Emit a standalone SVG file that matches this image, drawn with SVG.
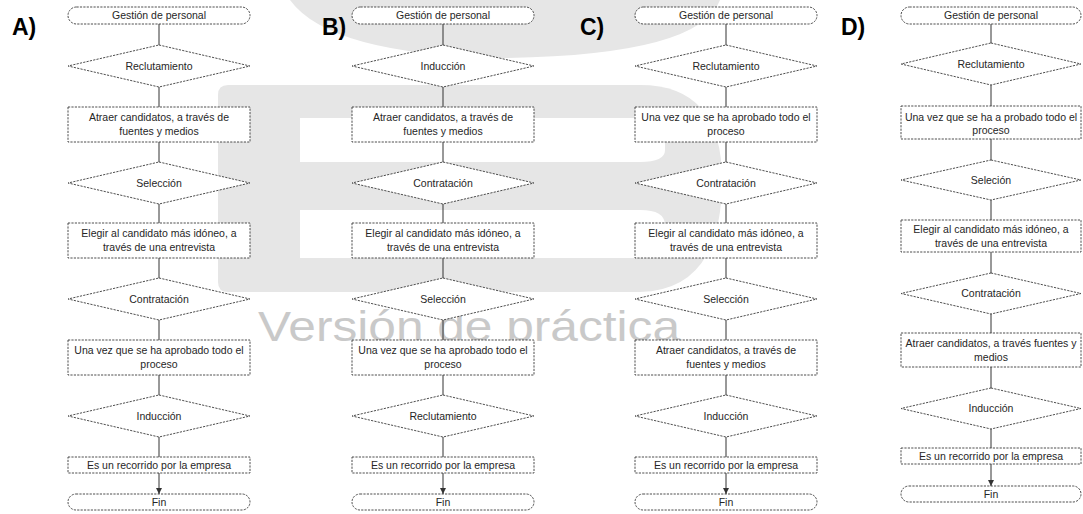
<svg xmlns="http://www.w3.org/2000/svg" width="1083" height="514" viewBox="0 0 1083 514">
<style>
.n{fill:#fff;stroke:#3a3a3a;stroke-width:0.9;stroke-dasharray:2.2 1.2}
.t{font-family:'Liberation Sans',Arial,sans-serif;font-size:10.5px;fill:#262626;text-anchor:middle}
.c{stroke:#333;stroke-width:1;fill:none;marker-end:url(#ah)}
.lbl{font-family:'Liberation Sans',Arial,sans-serif;font-size:23px;font-weight:bold;fill:#000}
.wm{fill:#e6e6e6}
</style>
<defs>
<marker id="ah" markerUnits="userSpaceOnUse" markerWidth="6" markerHeight="6" refX="6" refY="3" orient="auto"><path d="M0,0 L6,3 L0,6 z" fill="#333"/></marker>
</defs>
<rect width="1083" height="514" fill="#fff"/>
<g id="watermark">
<path class="wm" d="M290,0 L720,0 Q700,55 505,58 Q330,55 290,0 Z"/>
<path class="wm" d="M218,95 Q218,85 228,85 L640,85 Q722,85 722,180 Q722,290 640,292 L228,292 Q218,292 218,282 Z"/>
<path fill="#fff" d="M300,118 L640,118 Q665,118 665,140 L665,150 Q665,162 640,162 L300,162 Z"/>
<path fill="#fff" d="M300,210 L640,210 Q665,210 665,225 L665,240 Q665,258 640,258 L300,258 Z"/>
<text x="258" y="341" font-family="'Liberation Sans',Arial,sans-serif" font-size="42" fill="#c9c9c9" textLength="422" lengthAdjust="spacingAndGlyphs">Versión de práctica</text>
</g>
<g id="labels">
<text class="lbl" x="12" y="35">A)</text>
<text class="lbl" x="322" y="35">B)</text>
<text class="lbl" x="580" y="35">C)</text>
<text class="lbl" x="841" y="35">D)</text>
</g>
<g id="colA">
<g id="A_inicio"><rect class="n" x="68" y="7" width="182" height="17" rx="8.5"/><text class="t" x="159" y="19.3">Gestión de personal</text></g>
<g id="A_d1"><polygon class="n" points="159,45 250,66 159,87 68,66"/><text class="t" x="159" y="69.8">Reclutamiento</text></g>
<g id="A_p1"><rect class="n" x="68" y="107" width="182" height="35"/><text class="t" x="159" y="121.3">Atraer candidatos, a través de</text><text class="t" x="159" y="135.3">fuentes y medios</text></g>
<g id="A_d2"><polygon class="n" points="159,162 250,183 159,204 68,183"/><text class="t" x="159" y="186.8">Selección</text></g>
<g id="A_p2"><rect class="n" x="68" y="223" width="182" height="35"/><text class="t" x="159" y="237.3">Elegir al candidato más idóneo, a</text><text class="t" x="159" y="251.3">través de una entrevista</text></g>
<g id="A_d3"><polygon class="n" points="159,278 250,299 159,320 68,299"/><text class="t" x="159" y="302.8">Contratación</text></g>
<g id="A_p3"><rect class="n" x="68" y="340" width="182" height="35"/><text class="t" x="159" y="354.3">Una vez que se ha aprobado todo el</text><text class="t" x="159" y="368.3">proceso</text></g>
<g id="A_d4"><polygon class="n" points="159,395 250,416 159,437 68,416"/><text class="t" x="159" y="419.8">Inducción</text></g>
<g id="A_p4"><rect class="n" x="68" y="457" width="182" height="16"/><text class="t" x="159" y="468.8">Es un recorrido por la empresa</text></g>
<g id="A_fin"><rect class="n" x="68" y="494" width="182" height="16" rx="8"/><text class="t" x="159" y="505.8">Fin</text></g>
</g>
<g id="colB" transform="translate(284,0)">
<g id="B_inicio"><rect class="n" x="68" y="7" width="182" height="17" rx="8.5"/><text class="t" x="159" y="19.3">Gestión de personal</text></g>
<g id="B_d1"><polygon class="n" points="159,45 250,66 159,87 68,66"/><text class="t" x="159" y="69.8">Inducción</text></g>
<g id="B_p1"><rect class="n" x="68" y="107" width="182" height="35"/><text class="t" x="159" y="121.3">Atraer candidatos, a través de</text><text class="t" x="159" y="135.3">fuentes y medios</text></g>
<g id="B_d2"><polygon class="n" points="159,162 250,183 159,204 68,183"/><text class="t" x="159" y="186.8">Contratación</text></g>
<g id="B_p2"><rect class="n" x="68" y="223" width="182" height="35"/><text class="t" x="159" y="237.3">Elegir al candidato más idóneo, a</text><text class="t" x="159" y="251.3">través de una entrevista</text></g>
<g id="B_d3"><polygon class="n" points="159,278 250,299 159,320 68,299"/><text class="t" x="159" y="302.8">Selección</text></g>
<g id="B_p3"><rect class="n" x="68" y="340" width="182" height="35"/><text class="t" x="159" y="354.3">Una vez que se ha aprobado todo el</text><text class="t" x="159" y="368.3">proceso</text></g>
<g id="B_d4"><polygon class="n" points="159,395 250,416 159,437 68,416"/><text class="t" x="159" y="419.8">Reclutamiento</text></g>
<g id="B_p4"><rect class="n" x="68" y="457" width="182" height="16"/><text class="t" x="159" y="468.8">Es un recorrido por la empresa</text></g>
<g id="B_fin"><rect class="n" x="68" y="494" width="182" height="16" rx="8"/><text class="t" x="159" y="505.8">Fin</text></g>
</g>
<g id="colC" transform="translate(567,0)">
<g id="C_inicio"><rect class="n" x="68" y="7" width="182" height="17" rx="8.5"/><text class="t" x="159" y="19.3">Gestión de personal</text></g>
<g id="C_d1"><polygon class="n" points="159,45 250,66 159,87 68,66"/><text class="t" x="159" y="69.8">Reclutamiento</text></g>
<g id="C_p1"><rect class="n" x="68" y="107" width="182" height="35"/><text class="t" x="159" y="121.3">Una vez que se ha aprobado todo el</text><text class="t" x="159" y="135.3">proceso</text></g>
<g id="C_d2"><polygon class="n" points="159,162 250,183 159,204 68,183"/><text class="t" x="159" y="186.8">Contratación</text></g>
<g id="C_p2"><rect class="n" x="68" y="223" width="182" height="35"/><text class="t" x="159" y="237.3">Elegir al candidato más idóneo, a</text><text class="t" x="159" y="251.3">través de una entrevista</text></g>
<g id="C_d3"><polygon class="n" points="159,278 250,299 159,320 68,299"/><text class="t" x="159" y="302.8">Selección</text></g>
<g id="C_p3"><rect class="n" x="68" y="340" width="182" height="35"/><text class="t" x="159" y="354.3">Atraer candidatos, a través de</text><text class="t" x="159" y="368.3">fuentes y medios</text></g>
<g id="C_d4"><polygon class="n" points="159,395 250,416 159,437 68,416"/><text class="t" x="159" y="419.8">Inducción</text></g>
<g id="C_p4"><rect class="n" x="68" y="457" width="182" height="16"/><text class="t" x="159" y="468.8">Es un recorrido por la empresa</text></g>
<g id="C_fin"><rect class="n" x="68" y="494" width="182" height="16" rx="8"/><text class="t" x="159" y="505.8">Fin</text></g>
</g>
<g id="colD">
<g id="D_inicio"><rect class="n" x="901" y="7" width="180" height="17" rx="8.5"/><text class="t" x="991" y="19.3">Gestión de personal</text></g>
<g id="D_d1"><polygon class="n" points="991,43 1081,64 991,85 901,64"/><text class="t" x="991" y="67.8">Reclutamiento</text></g>
<g id="D_p1"><rect class="n" x="901" y="106" width="180" height="33"/><text class="t" x="991" y="120.8">Una vez que se ha a probado todo el</text><text class="t" x="991" y="134.3">proceso</text></g>
<g id="D_d2"><polygon class="n" points="991,160 1081,180 991,200 901,180"/><text class="t" x="991" y="183.8">Seleción</text></g>
<g id="D_p2"><rect class="n" x="901" y="220" width="180" height="32"/><text class="t" x="991" y="232.8">Elegir al candidato más idóneo, a</text><text class="t" x="991" y="246.8">través de una entrevista</text></g>
<g id="D_d3"><polygon class="n" points="991,273 1081,293.5 991,314 901,293.5"/><text class="t" x="991" y="297.3">Contratación</text></g>
<g id="D_p3"><rect class="n" x="901" y="333" width="180" height="34"/><text class="t" x="991" y="346.8">Atraer candidatos, a través fuentes y</text><text class="t" x="991" y="361.3">medios</text></g>
<g id="D_d4"><polygon class="n" points="991,388 1081,408.5 991,429 901,408.5"/><text class="t" x="991" y="412.3">Inducción</text></g>
<g id="D_p4"><rect class="n" x="901" y="448" width="180" height="16"/><text class="t" x="991" y="459.8">Es un recorrido por la empresa</text></g>
<g id="D_fin"><rect class="n" x="901" y="486" width="180" height="16" rx="8"/><text class="t" x="991" y="497.8">Fin</text></g>
</g>
<g id="connectors">
<path class="c" d="M159,24V45M159,87V107M159,142V162M159,204V223M159,258V278M159,320V340M159,375V395M159,437V457M159,473V494"/>
<path class="c" d="M443,24V45M443,87V107M443,142V162M443,204V223M443,258V278M443,320V340M443,375V395M443,437V457M443,473V494"/>
<path class="c" d="M726,24V45M726,87V107M726,142V162M726,204V223M726,258V278M726,320V340M726,375V395M726,437V457M726,473V494"/>
<path class="c" d="M991,24V43M991,85V106M991,139V160M991,200V220M991,252V273M991,314V333M991,367V388M991,429V448M991,464V486"/>
</g>
</svg>
